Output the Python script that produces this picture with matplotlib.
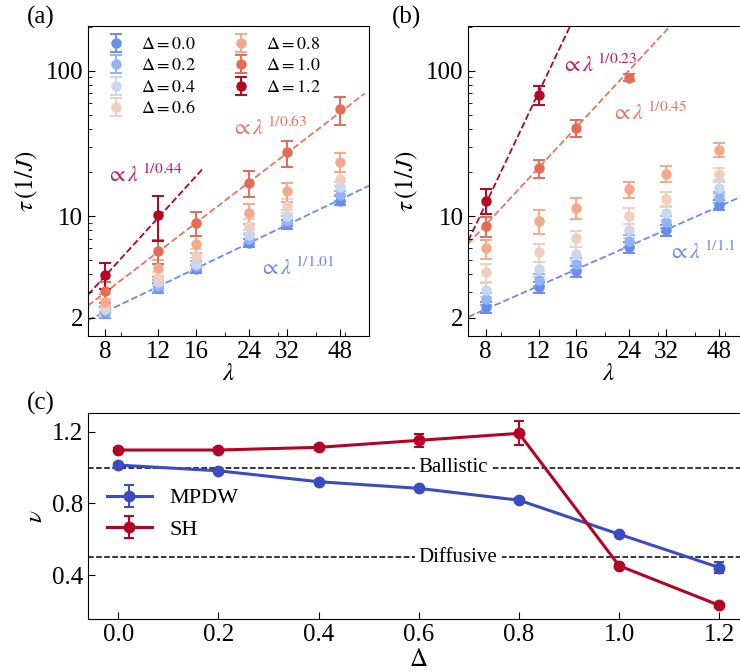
import numpy as np
import matplotlib.pyplot as plt
from matplotlib.ticker import FixedLocator, FixedFormatter, NullFormatter

plt.rcParams['font.family'] = ['Liberation Serif', 'DejaVu Serif']
plt.rcParams['mathtext.fontset'] = 'stix'
plt.rcParams['xtick.direction'] = 'in'
plt.rcParams['ytick.direction'] = 'in'

lam = [8, 12, 16, 24, 32, 48]
delta_labels = ['0.0', '0.2', '0.4', '0.6', '0.8', '1.0', '1.2']
colors = ['#6a8cee', '#92b4fa', '#cad8ef', '#f0cfbf', '#f5a98a', '#e36c53', '#b40426']

# panel (a): tau vs lambda, one list per Delta
tau_a = [[2.18, 3.21, 4.34, 6.56, 8.77, 12.8],
         [2.23, 3.33, 4.57, 7.0, 9.3, 13.9],
         [2.30, 3.5, 4.7, 7.37, 10.1, 15.8],
         [2.40, 3.76, 5.3, 8.6, 11.8, 18.1],
         [2.55, 4.40, 6.45, 10.5, 14.8, 23.6],
         [3.04, 5.80, 8.96, 17.0, 27.4, 54.2],
         [3.96, 10.2]]
err_a = [[0.2, 0.25, 0.3, 0.45, 0.6, 0.9],
         [0.2, 0.3, 0.35, 0.5, 0.7, 1.1],
         [0.25, 0.35, 0.45, 0.7, 1.0, 1.5],
         [0.3, 0.4, 0.6, 0.9, 1.3, 2.0],
         [0.35, 0.6, 0.9, 1.6, 2.2, 3.5],
         [0.5, 1.1, 1.7, 3.4, 5.7, 11.9],
         [0.8, 3.5]]

# panel (b)
tau_b = [[2.36, 3.24, 4.18, 6.11, 8.04, 12.0],
         [2.69, 3.66, 4.7, 6.8, 9.1, 13.5],
         [3.12, 4.34, 5.5, 7.97, 10.5, 15.6],
         [4.11, 5.65, 7.05, 10.1, 13.2, 19.6],
         [6.0, 9.3, 11.4, 15.3, 19.6, 28.7],
         [8.5, 21.4, 40.6, 89.6],
         [12.8, 68.0]]
err_b = [[0.2, 0.3, 0.35, 0.5, 0.7, 1.0],
         [0.25, 0.35, 0.45, 0.65, 0.85, 1.2],
         [0.35, 0.5, 0.6, 0.9, 1.1, 1.5],
         [0.6, 0.8, 0.9, 1.2, 1.5, 2.0],
         [0.9, 1.8, 1.9, 2.0, 2.5, 3.0],
         [1.3, 3.0, 5.5, 5.0],
         [2.5, 10.0]]

# power-law fits: tau = A * lambda^(1/nu)
fit_nu_a = [1.01, 0.63, 0.44]
fit_A_a = [0.281, 0.1105, 0.0346]
fit_xmax_a = [60, 58, 16.8]
fit_nu_b = [1.1, 0.45, 0.23]
fit_A_b = [0.346, 0.0858, 0.001436]
fit_xmax_b = [60, 40, 20]
fit_colors = ['#6a8cee', '#ea7560', '#b40426']
text_colors = ['#6a8cee', '#ea7560', '#c2186e']
text_pos_a = [(25.9, 4.35), (20.9, 40.3), (8.06, 19.0)]
text_pos_b = [(32.4, 5.6), (21.0, 50.8), (14.3, 109)]

# panel (c)
delta_c = [0.0, 0.2, 0.4, 0.6, 0.8, 1.0, 1.2]
nu_mpdw = [1.014, 0.982, 0.921, 0.884, 0.818, 0.628, 0.442]
nu_mpdw_err = [0.01, 0.01, 0.01, 0.01, 0.01, 0.012, 0.033]
nu_sh = [1.098, 1.098, 1.113, 1.152, 1.191, 0.452, 0.231]
nu_sh_err = [0.01, 0.01, 0.013, 0.037, 0.067, 0.01, 0.01]

fig = plt.figure(figsize=(7.4, 6.71), dpi=100)
ax_a = fig.add_axes([88/740, 1-336/671, 281/740, 310/671])
ax_b = fig.add_axes([468.3/740, 1-336/671, 280/740, 310/671])
ax_c = fig.add_axes([88.3/740, 1-619.3/671, 661/740, 206/671])


def tau_panel(ax, tau, err, nus, As, xmax, tpos):
    for i in range(len(tau)):
        ax.errorbar(lam[:len(tau[i])], tau[i], yerr=err[i], fmt='o', color=colors[i],
                    ms=6.5, capsize=4.5, elinewidth=1.4, capthick=1.4,
                    label=r'$\Delta = %s$' % delta_labels[i])
    for j in range(3):
        xx = np.geomspace(7, xmax[j], 50)
        ax.plot(xx, As[j] * xx ** (1 / nus[j]), '--', color=fit_colors[j], lw=1.3, zorder=0.5)
        ax.text(tpos[j][0], tpos[j][1], r'$\propto\lambda^{\,1/%s}$' % nus[j],
                color=text_colors[j], fontsize=16, va='center', ha='left')
    ax.set_xscale('log'); ax.set_yscale('log')
    ax.set_xlim(7, 60); ax.set_ylim(1.5, 203)
    ax.xaxis.set_major_locator(FixedLocator(lam))
    ax.xaxis.set_major_formatter(FixedFormatter([str(v) for v in lam]))
    ax.xaxis.set_minor_formatter(NullFormatter())
    ax.yaxis.set_major_locator(FixedLocator([2, 10, 100]))
    ax.yaxis.set_major_formatter(FixedFormatter(['2', '10', '100']))
    ax.yaxis.set_minor_formatter(NullFormatter())
    ax.tick_params(which='major', labelsize=18, length=5)
    ax.tick_params(which='minor', length=3)
    ax.set_xlabel(r'$\lambda$', fontsize=18, labelpad=0)
    ax.set_ylabel(r'$\tau\,(1/J)$', fontsize=18, labelpad=4)


tau_panel(ax_a, tau_a, err_a, fit_nu_a, fit_A_a, fit_xmax_a, text_pos_a)
tau_panel(ax_b, tau_b, err_b, fit_nu_b, fit_A_b, fit_xmax_b, text_pos_b)

h, l = ax_a.get_legend_handles_labels()
ax_a.legend(h, l, ncol=2, loc='upper left', frameon=False, fontsize=13,
            handlelength=2.0, handletextpad=0.4, columnspacing=1.5,
            labelspacing=0.25, borderaxespad=0.15, bbox_to_anchor=(0.0, 1.0))

# panel (c)
ax_c.axhline(1.0, color='black', ls='--', lw=1.1, zorder=0)
ax_c.axhline(0.5, color='black', ls='--', lw=1.1, zorder=0)
ax_c.text(0.60, 1.0, 'Ballistic', fontsize=15, ha='left', va='center',
          bbox=dict(facecolor='white', edgecolor='none', pad=3), zorder=1)
ax_c.text(0.60, 0.5, 'Diffusive', fontsize=15, ha='left', va='center',
          bbox=dict(facecolor='white', edgecolor='none', pad=3), zorder=1)
ax_c.errorbar(delta_c, nu_mpdw, yerr=nu_mpdw_err, fmt='-o', color='#3b4cc0', lw=2.2,
              ms=7.5, capsize=3.5, elinewidth=1.5, capthick=1.5, label='MPDW', zorder=3)
ax_c.errorbar(delta_c, nu_sh, yerr=nu_sh_err, fmt='-o', color='#b40426', lw=2.2,
              ms=7.5, capsize=3.5, elinewidth=1.5, capthick=1.5, label='SH', zorder=3)
ax_c.set_xlim(-0.060, 1.260)
ax_c.set_ylim(0.153, 1.303)
ax_c.set_xticks([0.0, 0.2, 0.4, 0.6, 0.8, 1.0, 1.2])
ax_c.set_xticklabels(['0.0', '0.2', '0.4', '0.6', '0.8', '1.0', '1.2'])
ax_c.set_yticks([0.4, 0.8, 1.2])
ax_c.set_yticklabels(['0.4', '0.8', '1.2'])
ax_c.tick_params(labelsize=18, length=5)
ax_c.set_xlabel(r'$\Delta$', fontsize=18, labelpad=2)
ax_c.set_ylabel(r'$\nu$', fontsize=18, labelpad=4)
ax_c.legend(loc='center left', bbox_to_anchor=(0.015, 0.511), frameon=False,
            fontsize=16, borderaxespad=0, handlelength=2.0, handletextpad=0.8)

fig.text(27/740, 1-17/671, '(a)', fontsize=18, va='center', ha='left')
fig.text(392/740, 1-17/671, '(b)', fontsize=18, va='center', ha='left')
fig.text(27/740, 1-403/671, '(c)', fontsize=18, va='center', ha='left')

plt.savefig('out.png', dpi=100)
